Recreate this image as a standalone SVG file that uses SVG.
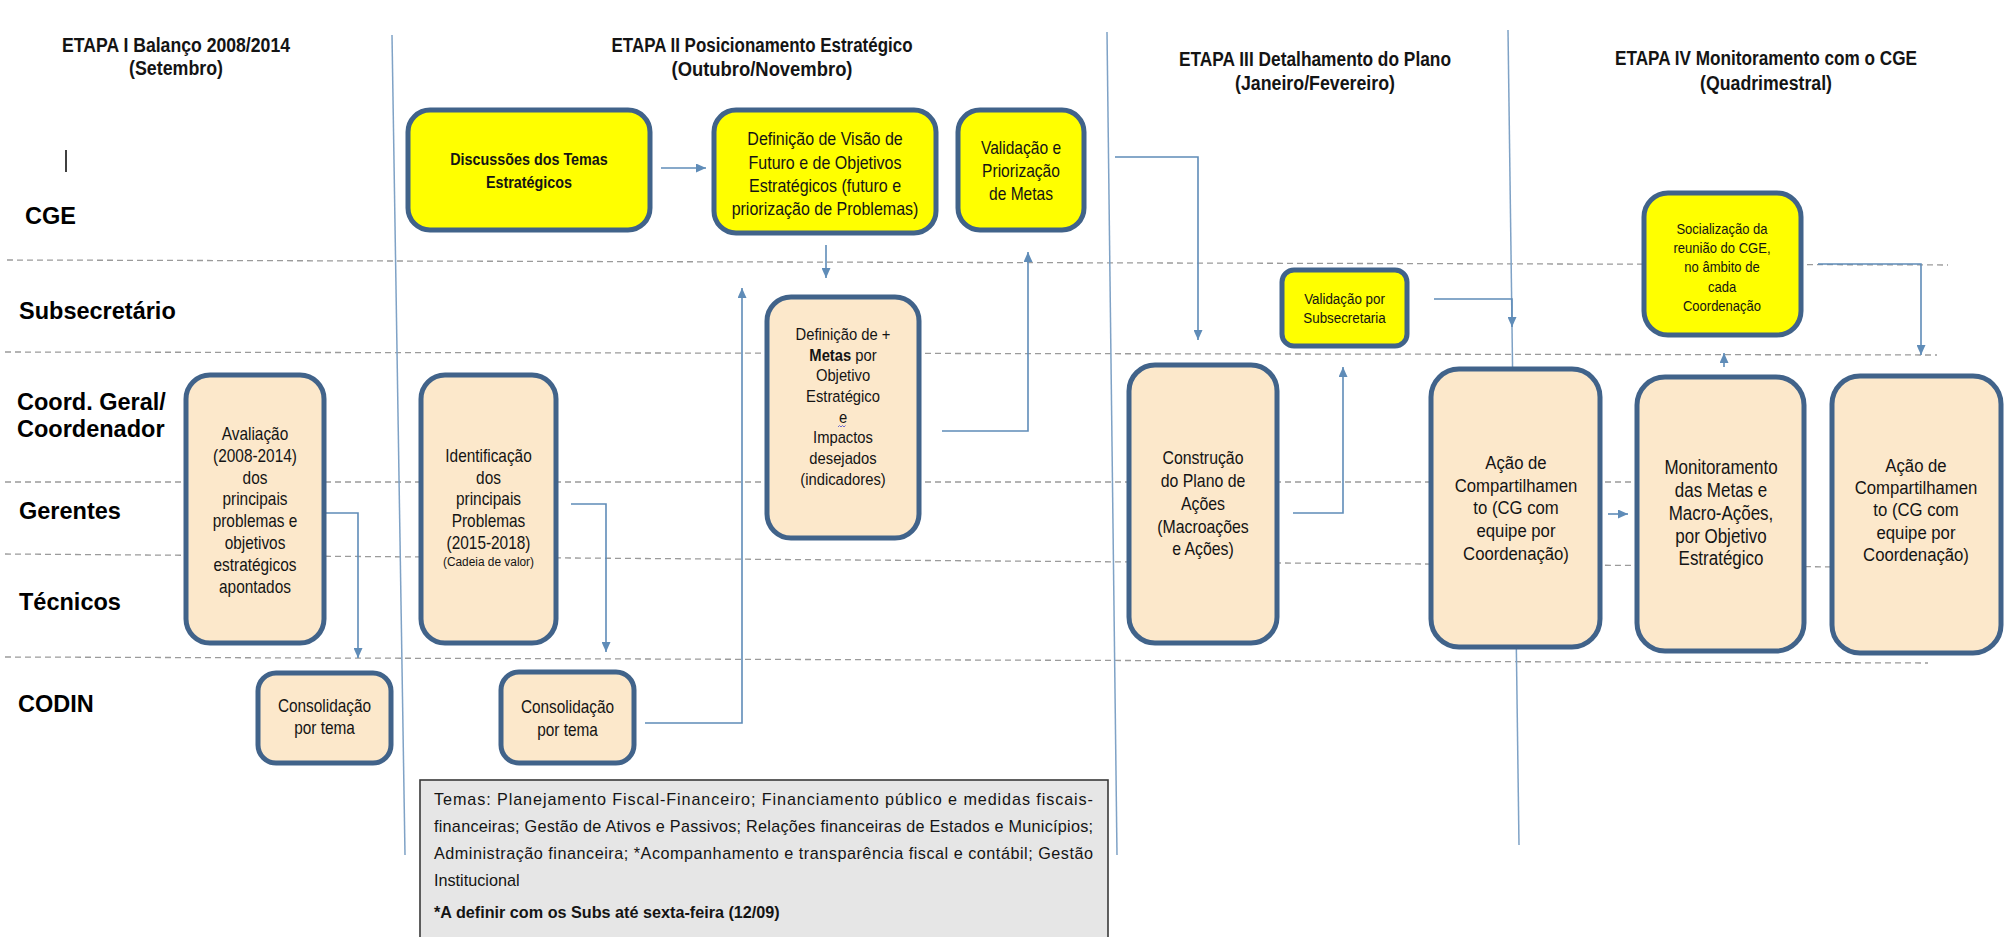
<svg xmlns="http://www.w3.org/2000/svg" width="2008" height="937" viewBox="0 0 2008 937">
<style>
.peach{fill:#FCE8CB;stroke:#41638A;stroke-width:5}
.yellow{fill:#FFFF00;stroke:#41638A;stroke-width:5}
.t{font-family:'Liberation Sans',Arial,sans-serif;fill:#141414;text-anchor:middle}
.b{font-weight:bold}
.title{font-family:'Liberation Sans',Arial,sans-serif;font-weight:bold;font-size:19.5px;fill:#141414;text-anchor:middle}
.lane{font-family:'Liberation Sans',Arial,sans-serif;font-weight:bold;font-size:23.5px;fill:#000}
.dash{stroke:#9B9B9B;stroke-width:1.3;stroke-dasharray:6 4;fill:none}
.div{stroke:#7FA2C6;stroke-width:1.5;fill:none}
.conn{stroke:#5F8CB8;stroke-width:1.6;fill:none;marker-end:url(#ah)}
.note{font-family:'Liberation Sans',Arial,sans-serif;font-size:16.2px;fill:#141414}
</style>
<defs>
<marker id="ah" markerUnits="userSpaceOnUse" markerWidth="10" markerHeight="9" refX="10" refY="4.5" orient="auto">
<path d="M0,0 L10,4.5 L0,9 z" fill="#5F8CB8"/>
</marker>
</defs>
<rect width="2008" height="937" fill="#FFFFFF"/>

<g id="titles">
<text class="title" x="176" y="52" textLength="228" lengthAdjust="spacingAndGlyphs">ETAPA I Balanço 2008/2014</text>
<text class="title" x="176" y="75" textLength="94" lengthAdjust="spacingAndGlyphs">(Setembro)</text>
<text class="title" x="762" y="52" textLength="301" lengthAdjust="spacingAndGlyphs">ETAPA II Posicionamento Estratégico</text>
<text class="title" x="762" y="76" textLength="181" lengthAdjust="spacingAndGlyphs">(Outubro/Novembro)</text>
<text class="title" x="1315" y="66" textLength="272" lengthAdjust="spacingAndGlyphs">ETAPA III Detalhamento do Plano</text>
<text class="title" x="1315" y="90" textLength="160" lengthAdjust="spacingAndGlyphs">(Janeiro/Fevereiro)</text>
<text class="title" x="1766" y="65" textLength="302" lengthAdjust="spacingAndGlyphs">ETAPA IV Monitoramento com o CGE</text>
<text class="title" x="1766" y="90" textLength="132" lengthAdjust="spacingAndGlyphs">(Quadrimestral)</text>
</g>

<g id="lanes">
<line class="dash" x1="7" y1="260" x2="1948" y2="265"/>
<line class="dash" x1="5" y1="352" x2="1937" y2="355"/>
<line class="dash" x1="5" y1="482" x2="1720" y2="482"/>
<line class="dash" x1="5" y1="554" x2="1850" y2="567"/>
<line class="dash" x1="5" y1="657" x2="1928" y2="663"/>
<line class="div" x1="392" y1="35" x2="405" y2="855"/>
<line class="div" x1="1107" y1="32" x2="1117" y2="855"/>
<line class="div" x1="1508" y1="30" x2="1519" y2="845"/>
<line x1="66" y1="150" x2="66" y2="172" stroke="#000" stroke-width="1.5"/>
<text class="lane" x="25" y="224">CGE</text>
<text class="lane" x="19" y="319">Subsecretário</text>
<text class="lane" x="17" y="410">Coord. Geral/</text>
<text class="lane" x="17" y="437">Coordenador</text>
<text class="lane" x="19" y="519">Gerentes</text>
<text class="lane" x="19" y="610">Técnicos</text>
<text class="lane" x="18" y="712">CODIN</text>
</g>

<g id="connectors">
<path class="conn" d="M324,513 H358 V658"/>
<path class="conn" d="M571,504 H606 V652"/>
<path class="conn" d="M645,723 H742 V288"/>
<path class="conn" d="M661,168 H706"/>
<path class="conn" d="M826,245 V278"/>
<path class="conn" d="M942,431 H1028 V252"/>
<path class="conn" d="M1115,157 H1198 V340"/>
<path class="conn" d="M1293,513 H1343 V367"/>
<path class="conn" d="M1434,299 H1512 V327"/>
<path class="conn" d="M1608,514 H1628"/>
<path class="conn" d="M1724,367 V353"/>
<path class="conn" d="M1818,264 H1921 V355"/>
</g>

<g id="n-avaliacao">
<rect class="peach" x="186" y="375" width="138" height="268" rx="24"/>
<g transform="translate(255 0) scale(0.88 1)" class="t" font-size="17.5">
<text x="0" y="440">Avaliação</text>
<text x="0" y="462">(2008-2014)</text>
<text x="0" y="484">dos</text>
<text x="0" y="505">principais</text>
<text x="0" y="527">problemas e</text>
<text x="0" y="549">objetivos</text>
<text x="0" y="571">estratégicos</text>
<text x="0" y="593">apontados</text>
</g>
</g>

<g id="n-consolidacao1">
<rect class="peach" x="258" y="673" width="133" height="90" rx="18"/>
<g transform="translate(324.5 0) scale(0.88 1)" class="t" font-size="17.5">
<text x="0" y="712">Consolidação</text>
<text x="0" y="734">por tema</text>
</g>
</g>

<g id="n-identificacao">
<rect class="peach" x="421" y="375" width="135" height="268" rx="24"/>
<g transform="translate(488.5 0) scale(0.88 1)" class="t" font-size="17.5">
<text x="0" y="462">Identificação</text>
<text x="0" y="484">dos</text>
<text x="0" y="505">principais</text>
<text x="0" y="527">Problemas</text>
<text x="0" y="549">(2015-2018)</text>
<text x="0" y="566" font-size="13.5">(Cadeia de valor)</text>
</g>
</g>

<g id="n-consolidacao2">
<rect class="peach" x="501" y="672" width="133" height="91" rx="18"/>
<g transform="translate(567.5 0) scale(0.88 1)" class="t" font-size="17.5">
<text x="0" y="713">Consolidação</text>
<text x="0" y="736">por tema</text>
</g>
</g>

<g id="n-discussoes">
<rect class="yellow" x="408" y="110" width="242" height="120" rx="22"/>
<g transform="translate(529 0) scale(0.88 1)" class="t b" font-size="16.3">
<text x="0" y="165">Discussões dos Temas</text>
<text x="0" y="188">Estratégicos</text>
</g>
</g>

<g id="n-visao">
<rect class="yellow" x="714" y="110" width="222" height="123" rx="22"/>
<g transform="translate(825 0) scale(0.88 1)" class="t" font-size="18.2">
<text x="0" y="145">Definição de Visão de</text>
<text x="0" y="169">Futuro e de Objetivos</text>
<text x="0" y="192">Estratégicos (futuro e</text>
<text x="0" y="215">priorização de Problemas)</text>
</g>
</g>

<g id="n-validacao-priorizacao">
<rect class="yellow" x="958" y="110" width="126" height="120" rx="22"/>
<g transform="translate(1021 0) scale(0.88 1)" class="t" font-size="17.7">
<text x="0" y="154">Validação e</text>
<text x="0" y="177">Priorização</text>
<text x="0" y="200">de Metas</text>
</g>
</g>

<g id="n-metas">
<rect class="peach" x="767" y="297" width="152" height="241" rx="24"/>
<g transform="translate(843 0) scale(0.88 1)" class="t" font-size="16.8">
<text x="0" y="340">Definição de +</text>
<text x="0" y="361"><tspan font-weight="bold">Metas</tspan> por</text>
<text x="0" y="381">Objetivo</text>
<text x="0" y="402">Estratégico</text>
<text x="0" y="423">e</text>
<text x="0" y="443">Impactos</text>
<text x="0" y="464">desejados</text>
<text x="0" y="485">(indicadores)</text>
</g>
<path d="M838,427 l1.5,-1.5 l1.5,1.5 l1.5,-1.5 l1.5,1.5 l1.5,-1.5" fill="none" stroke="#6A6AD0" stroke-width="1"/>
</g>

<g id="n-validacao-sub">
<rect class="yellow" x="1282" y="270" width="125" height="76" rx="12"/>
<g transform="translate(1344.5 0) scale(0.88 1)" class="t" font-size="15.2">
<text x="0" y="304">Validação por</text>
<text x="0" y="323">Subsecretaria</text>
</g>
</g>

<g id="n-construcao">
<rect class="peach" x="1129" y="365" width="148" height="278" rx="26"/>
<g transform="translate(1203 0) scale(0.88 1)" class="t" font-size="18">
<text x="0" y="464">Construção</text>
<text x="0" y="487">do Plano de</text>
<text x="0" y="510">Ações</text>
<text x="0" y="533">(Macroações</text>
<text x="0" y="555">e Ações)</text>
</g>
</g>

<g id="n-acao1">
<rect class="peach" x="1431" y="369" width="169" height="278" rx="28"/>
<g transform="translate(1516 0) scale(0.88 1)" class="t" font-size="19">
<text x="0" y="469">Ação de</text>
<text x="0" y="492">Compartilhamen</text>
<text x="0" y="514">to (CG com</text>
<text x="0" y="537">equipe por</text>
<text x="0" y="560">Coordenação)</text>
</g>
</g>

<g id="n-socializacao">
<rect class="yellow" x="1644" y="193" width="157" height="142" rx="24"/>
<g transform="translate(1722 0) scale(0.88 1)" class="t" font-size="14.8">
<text x="0" y="234">Socialização da</text>
<text x="0" y="253">reunião do CGE,</text>
<text x="0" y="272">no âmbito de</text>
<text x="0" y="292">cada</text>
<text x="0" y="311">Coordenação</text>
</g>
</g>

<g id="n-monitoramento">
<rect class="peach" x="1637" y="377" width="167" height="274" rx="28"/>
<g transform="translate(1721 0) scale(0.88 1)" class="t" font-size="19.3">
<text x="0" y="474">Monitoramento</text>
<text x="0" y="497">das Metas e</text>
<text x="0" y="520">Macro-Ações,</text>
<text x="0" y="543">por Objetivo</text>
<text x="0" y="565">Estratégico</text>
</g>
</g>

<g id="n-acao2">
<rect class="peach" x="1832" y="376" width="169" height="277" rx="28"/>
<g transform="translate(1916 0) scale(0.88 1)" class="t" font-size="19">
<text x="0" y="472">Ação de</text>
<text x="0" y="494">Compartilhamen</text>
<text x="0" y="516">to (CG com</text>
<text x="0" y="539">equipe por</text>
<text x="0" y="561">Coordenação)</text>
</g>
</g>

<g id="n-temas">
<rect x="420" y="780" width="688" height="165" fill="#E6E6E6" stroke="#3A3A3A" stroke-width="1.6"/>
<text class="note" x="434" y="805" textLength="659" lengthAdjust="spacing">Temas: Planejamento Fiscal-Financeiro; Financiamento público e medidas fiscais-</text>
<text class="note" x="434" y="832" textLength="659" lengthAdjust="spacing">financeiras; Gestão de Ativos e Passivos; Relações financeiras de Estados e Municípios;</text>
<text class="note" x="434" y="859" textLength="659" lengthAdjust="spacing">Administração financeira; *Acompanhamento e transparência fiscal e contábil; Gestão</text>
<text class="note" x="434" y="886">Institucional</text>
<text class="note" x="434" y="918" font-weight="bold" font-size="15">*A definir com os Subs até sexta-feira (12/09)</text>
</g>
</svg>
